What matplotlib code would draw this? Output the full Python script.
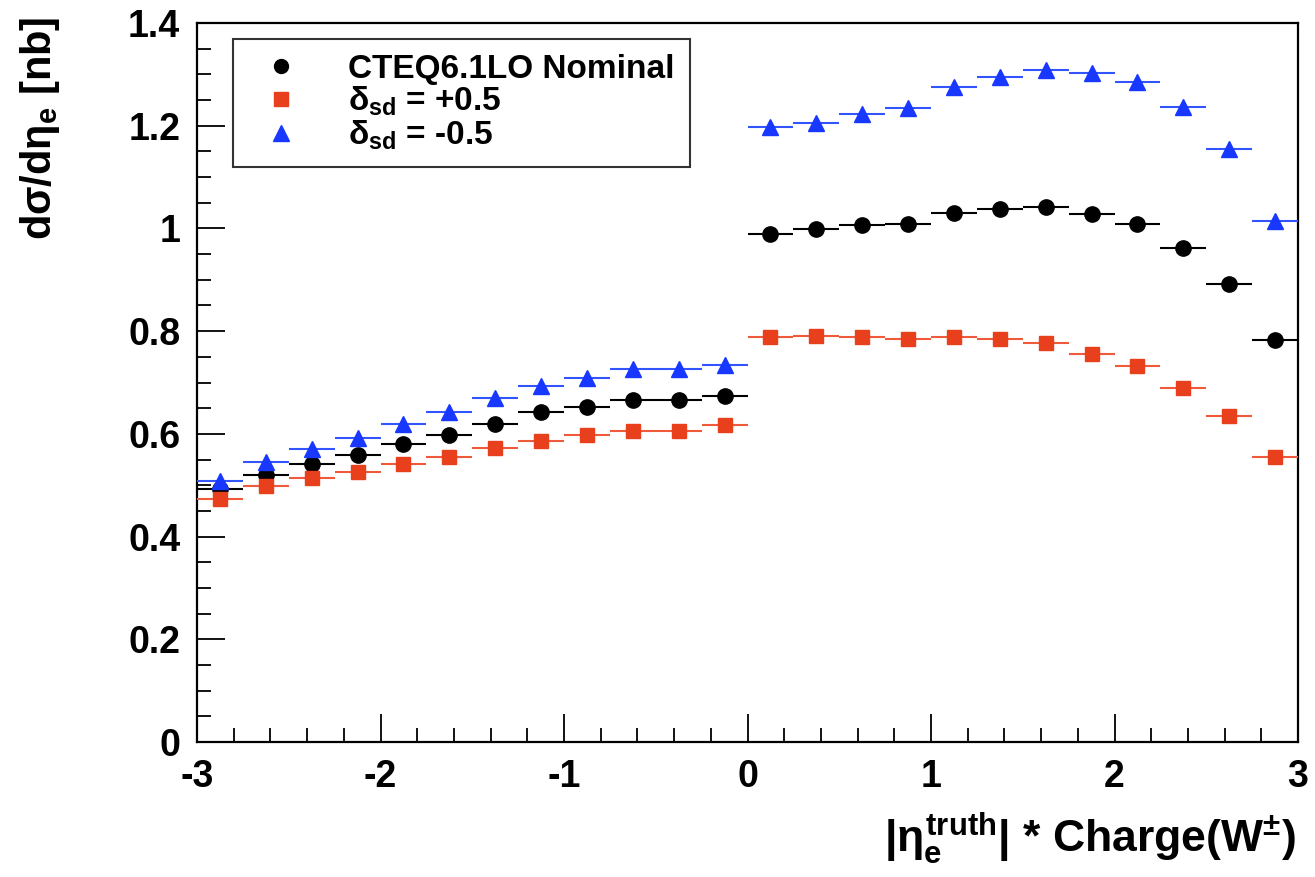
import numpy as np
import matplotlib
matplotlib.use("Agg")
import matplotlib.pyplot as plt
from matplotlib.lines import Line2D
from matplotlib.ticker import MultipleLocator, FuncFormatter

# ---------------------------------------------------------------------------
# Data (24 bins of width 0.25 in [-3, 3])
# ---------------------------------------------------------------------------
bin_centers = [-2.875, -2.625, -2.375, -2.125, -1.875, -1.625, -1.375, -1.125,
               -0.875, -0.625, -0.375, -0.125, 0.125, 0.375, 0.625, 0.875,
               1.125, 1.375, 1.625, 1.875, 2.125, 2.375, 2.625, 2.875]
half_width = 0.125

nominal = [0.492, 0.520, 0.542, 0.559, 0.581, 0.597, 0.619, 0.642,
           0.652, 0.666, 0.666, 0.674, 0.990, 0.999, 1.006, 1.009,
           1.031, 1.038, 1.042, 1.028, 1.009, 0.961, 0.892, 0.783]
delta_plus = [0.473, 0.499, 0.515, 0.526, 0.542, 0.554, 0.573, 0.587,
              0.597, 0.605, 0.605, 0.617, 0.788, 0.791, 0.788, 0.784,
              0.788, 0.785, 0.777, 0.755, 0.732, 0.690, 0.635, 0.555]
delta_minus = [0.508, 0.545, 0.570, 0.592, 0.619, 0.642, 0.669, 0.694,
               0.708, 0.727, 0.727, 0.735, 1.197, 1.206, 1.222, 1.234,
               1.275, 1.295, 1.308, 1.303, 1.286, 1.236, 1.154, 1.014]

labels = ["CTEQ6.1LO Nominal", r"$\delta_{sd}$ = +0.5", r"$\delta_{sd}$ = -0.5"]

# ---------------------------------------------------------------------------
# Style
# ---------------------------------------------------------------------------
FONT = "Liberation Sans"
plt.rcParams["font.family"] = [FONT, "DejaVu Sans"]
plt.rcParams["font.weight"] = "bold"
plt.rcParams["axes.unicode_minus"] = False
plt.rcParams["mathtext.fontset"] = "custom"
plt.rcParams["mathtext.rm"] = FONT + ":bold"
plt.rcParams["mathtext.bf"] = FONT + ":bold"
plt.rcParams["mathtext.sf"] = FONT + ":bold"
plt.rcParams["mathtext.it"] = FONT + ":bold"

RED = "#e8401c"
BLUE = "#1838ff"

fig = plt.figure(figsize=(13.15, 8.77), dpi=100)
ax = fig.add_axes([197 / 1315, 1 - 742 / 877, 1101 / 1315, 719 / 877])

series = [
    (nominal, "o", "black", "black", 11),
    (delta_plus, "s", RED, "#ee5a3a", 10),
    (delta_minus, "^", BLUE, "#3355ff", 11.5),
]
for vals, mk, col, lcol, ms in series:
    ax.errorbar(bin_centers, vals, xerr=half_width, fmt=mk, color=lcol,
                mfc=col, mec=col, ms=ms, elinewidth=1.5, capsize=0, zorder=3)

ax.set_xlim(-3, 3)
ax.set_ylim(0, 1.4)
ax.xaxis.set_major_locator(MultipleLocator(1))
ax.xaxis.set_minor_locator(MultipleLocator(0.2))
ax.yaxis.set_major_locator(MultipleLocator(0.2))
ax.yaxis.set_minor_locator(MultipleLocator(0.05))
fmt = FuncFormatter(lambda v, p: "%g" % round(v, 3))
ax.xaxis.set_major_formatter(fmt)
ax.yaxis.set_major_formatter(fmt)
ax.tick_params(which="both", direction="in", top=False, right=False,
               width=1.3, labelsize=27)
ax.tick_params(which="major", length=20, pad=12)
ax.tick_params(which="minor", length=10)
for lab in ax.get_xticklabels() + ax.get_yticklabels():
    lab.set_fontweight("bold")
for sp in ax.spines.values():
    sp.set_linewidth(1.6)

# Axis titles (ROOT style: aligned at the end of the axis)
fig.text(40 / 1315, 1 - 17 / 877, r"d$\sigma$/d$\eta_{e}$ [nb]",
         rotation=90, ha="center", va="top", fontsize=30, fontweight="bold")
fig.text(1296 / 1315, 1 - 852 / 877,
         r"|$\eta_{e}^{truth}$| * Charge(W$^{\pm}$)",
         ha="right", va="baseline", fontsize=32, fontweight="bold")

# Legend
handles = [
    Line2D([], [], ls="none", marker="o", color="black", ms=10),
    Line2D([], [], ls="none", marker="s", color=RED, ms=10),
    Line2D([], [], ls="none", marker="^", color=BLUE, ms=11),
]
leg = ax.legend(handles, labels, loc="upper left",
                bbox_to_anchor=((233 - 197) / 1101, (742 - 39) / 719),
                prop={"family": FONT, "weight": "bold", "size": 24},
                frameon=True, fancybox=False, edgecolor="black",
                borderpad=0.45, handlelength=2.0, handletextpad=1.0,
                labelspacing=0.0, borderaxespad=0)
leg.get_frame().set_linewidth(1.5)

fig.savefig("out.png", dpi=100)
